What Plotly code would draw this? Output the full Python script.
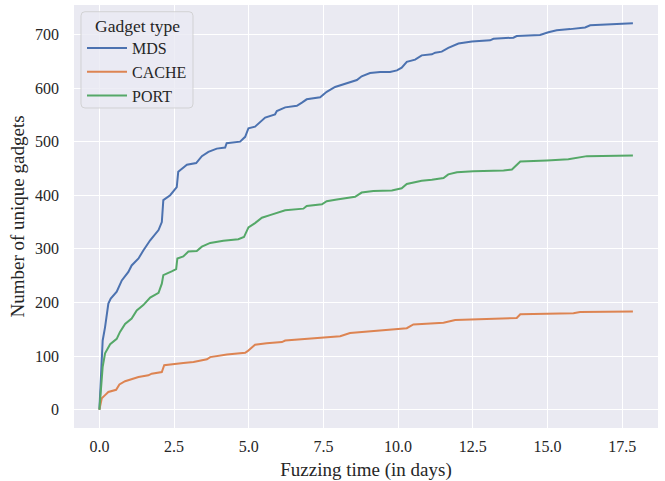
import plotly.graph_objects as go

# ---- data ----
mds_days = [0, 0.11, 0.19, 0.30, 0.38, 0.58, 0.75, 0.97, 1.08, 1.31, 1.47, 1.70, 1.98, 2.09, 2.14,
            2.37, 2.59, 2.64, 2.93, 3.24, 3.43, 3.65, 3.93, 4.21, 4.26, 4.71, 4.88, 4.99, 5.21,
            5.38, 5.55, 5.88, 5.94, 6.22, 6.61, 6.78, 6.94, 7.39, 7.61, 7.89, 8.17, 8.39, 8.62,
            8.78, 9.06, 9.40, 9.73, 9.96, 10.12, 10.29, 10.57, 10.79, 11.13, 11.24, 11.46, 11.68,
            12.02, 12.47, 13.08, 13.19, 13.86, 13.97, 14.75, 15.03, 15.31, 15.76, 16.26, 16.43,
            16.99, 17.86]
mds_vals = [0, 129, 154, 198, 207, 220, 241, 257, 269, 282, 297, 316, 335, 350, 391,
            400, 415, 444, 457, 460, 473, 481, 487, 489, 497, 500, 509, 525, 528,
            537, 545, 551, 557, 564, 567, 573, 579, 583, 593, 602, 607, 610, 615,
            622, 628, 630, 630, 633, 638, 649, 653, 661, 663, 666, 668, 675,
            683, 687, 689, 692, 694, 697, 699, 704, 708, 710, 713, 717,
            719, 721]

cache_days = [0, 0.08, 0.19, 0.30, 0.56, 0.67, 0.86, 1.14, 1.31, 1.64, 1.75, 2.09, 2.17, 2.81,
              3.15, 3.60, 3.71, 4.27, 4.88, 4.96, 5.21, 5.60, 6.11, 6.22, 6.83, 7.50, 8.06,
              8.39, 9.06, 9.29, 10.29, 10.51, 11.52, 11.91, 12.63, 13.97, 14.09, 15.87, 16.09,
              17.86]
cache_vals = [0, 21, 27, 33, 37, 47, 53, 58, 61, 64, 67, 70, 83, 87,
              89, 94, 98, 103, 106, 109, 121, 124, 126, 129, 132, 135, 137,
              143, 146, 148, 152, 159, 162, 167, 168, 171, 178, 180, 182,
              183]

port_days = [0, 0.11, 0.19, 0.36, 0.58, 0.69, 0.86, 1.08, 1.25, 1.47, 1.70, 1.98, 2.09, 2.14,
             2.42, 2.57, 2.61, 2.81, 2.98, 3.26, 3.43, 3.71, 4.15, 4.65, 4.84, 4.99, 5.21,
             5.44, 5.71, 5.94, 6.22, 6.83, 6.94, 7.45, 7.61, 7.95, 8.56, 8.78, 9.17, 9.79,
             10.12, 10.29, 10.57, 10.79, 11.13, 11.52, 11.68, 11.97, 12.52, 13.53, 13.81,
             13.97, 14.09, 14.98, 15.70, 16.32, 17.86]
port_vals = [0, 80, 105, 122, 132, 145, 160, 170, 185, 195, 209, 218, 235, 251,
             258, 262, 282, 286, 295, 296, 304, 311, 315, 318, 322, 340, 348,
             358, 363, 367, 372, 375, 380, 383, 389, 392, 397, 405, 408, 409,
             413, 421, 425, 427, 429, 432, 439, 443, 445, 446, 448,
             456, 463, 465, 467, 473, 474]

series_names = ["MDS", "CACHE", "PORT"]
series_colors = ["#4C72B0", "#DD8452", "#55A868"]
legend_title = "Gadget type"
x_tick_vals = [0.0, 2.5, 5.0, 7.5, 10.0, 12.5, 15.0, 17.5]
x_tick_text = ["0.0", "2.5", "5.0", "7.5", "10.0", "12.5", "15.0", "17.5"]
y_tick_vals = [0, 100, 200, 300, 400, 500, 600, 700]

FONT = "Liberation Serif, Times New Roman, serif"
W, H = 665, 481
ML, MR, MT, MB = 74, 7, 5, 53
PW, PH = W - ML - MR, H - MT - MB


def px_to_paper(px, py):
    return (px - ML) / PW, 1 - (py - MT) / PH


fig = go.Figure()
for name, color, xs, ys in zip(series_names, series_colors,
                               [mds_days, cache_days, port_days],
                               [mds_vals, cache_vals, port_vals]):
    fig.add_trace(go.Scatter(x=xs, y=ys, mode="lines", name=name,
                             line=dict(color=color, width=2)))

# legend frame (rounded box) drawn as a shape, title as annotation
bx0, by0 = px_to_paper(81, 11.7)
bx1, by1 = px_to_paper(193, 108)
rx, ry = 4 / PW, 4 / PH
path = (f"M {bx0+rx},{by0} L {bx1-rx},{by0} Q {bx1},{by0} {bx1},{by0-ry} "
        f"L {bx1},{by1+ry} Q {bx1},{by1} {bx1-rx},{by1} "
        f"L {bx0+rx},{by1} Q {bx0},{by1} {bx0},{by1+ry} "
        f"L {bx0},{by0-ry} Q {bx0},{by0} {bx0+rx},{by0} Z")
fig.add_shape(type="path", path=path, xref="paper", yref="paper", layer="above",
              fillcolor="rgba(234,234,242,0.8)",
              line=dict(color="rgba(204,204,204,0.8)", width=1))
tx, ty = px_to_paper(137, 25.5)
fig.add_annotation(x=tx, y=ty, xref="paper", yref="paper", text=legend_title,
                   showarrow=False, xanchor="center", yanchor="middle",
                   font=dict(family=FONT, size=17.5, color="#262626"))

lx, ly = px_to_paper(82, 31)
fig.update_layout(
    width=W, height=H,
    margin=dict(l=ML, r=MR, t=MT, b=MB),
    paper_bgcolor="white",
    plot_bgcolor="#EAEAF2",
    font=dict(family=FONT, size=16, color="#262626"),
    showlegend=True,
    legend=dict(
        x=lx, y=ly, xanchor="left", yanchor="top",
        bgcolor="rgba(0,0,0,0)", borderwidth=0,
        font=dict(size=16),
        itemwidth=40,
    ),
)
fig.update_xaxes(
    range=[-0.85, 18.7], tickvals=x_tick_vals, ticktext=x_tick_text,
    showgrid=True, gridcolor="white", gridwidth=1.4, zeroline=False,
    showline=False, ticks="", ticklabelstandoff=7, automargin=False,
    title=dict(text="Fuzzing time (in days)", standoff=10),
)
fig.update_yaxes(
    range=[-34.3, 755], tickvals=y_tick_vals,
    showgrid=True, gridcolor="white", gridwidth=1.4, zeroline=False,
    showline=False, ticks="", ticklabelstandoff=14, automargin=False,
    title=dict(text="Number of unique gadgets", standoff=5),
)

fig.write_html("out.html", config={"displayModeBar": False},
               post_script="document.body.style.margin='0';document.body.style.overflow='hidden';")
